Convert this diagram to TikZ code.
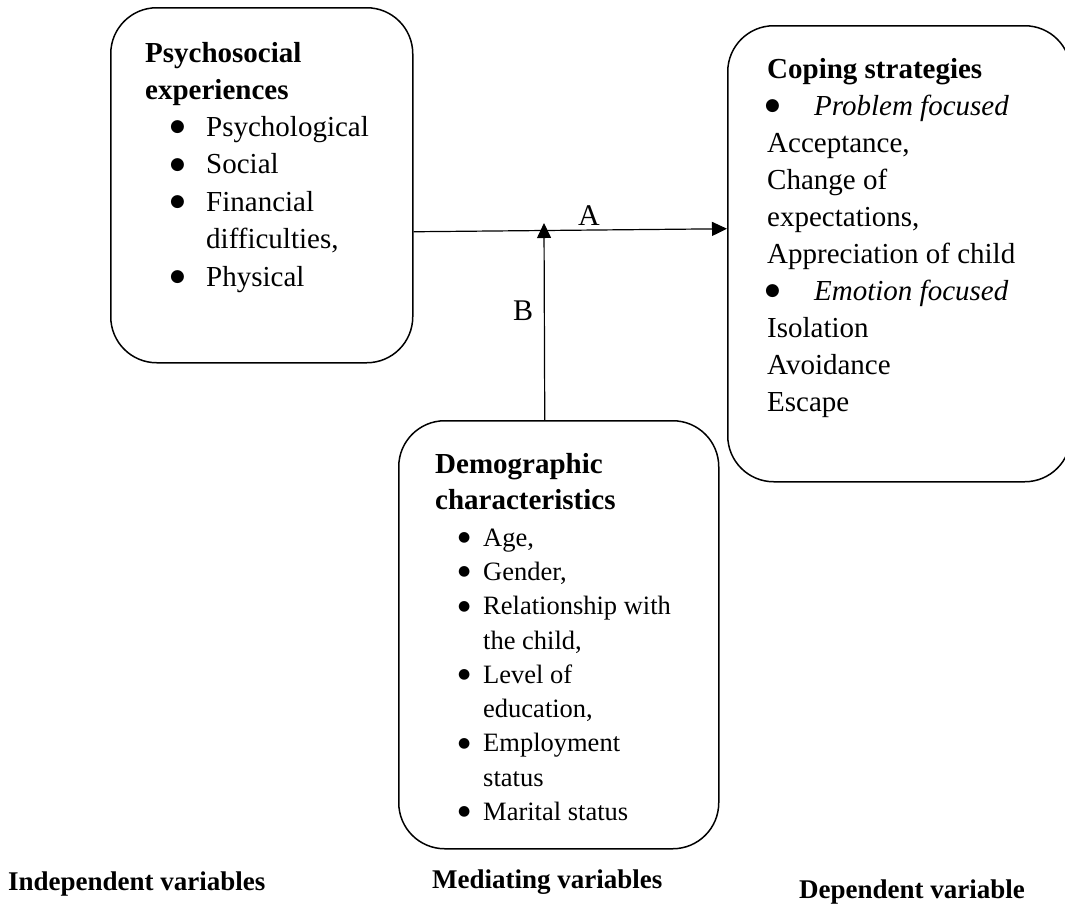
\documentclass[tikz,border=0pt]{standalone}
\usepackage{fontspec}
\setmainfont{Liberation Serif}
\newfontfamily\dvfont{DejaVu Sans}
\usetikzlibrary{arrows.meta}
\begin{document}
\begin{tikzpicture}[x=1pt,y=-1pt,
  box/.style={draw,line width=1.5pt,rounded corners=46pt,inner sep=0pt,anchor=north west},
  txt/.style={inner sep=0pt,anchor=base west,font=\fontsize{29}{35}\selectfont},
  hd/.style={inner sep=0pt,anchor=base west,font=\fontsize{29}{35}\selectfont\bfseries},
  it/.style={inner sep=0pt,anchor=base west,font=\fontsize{29}{35}\selectfont\itshape},
  sm/.style={inner sep=0pt,anchor=base west,font=\fontsize{26.5}{32}\selectfont},
  bul/.style={inner sep=0pt,anchor=base west,font=\dvfont\fontsize{17}{19}\selectfont,yshift=4.5pt},
  sbul/.style={inner sep=0pt,anchor=base west,font=\dvfont\fontsize{14}{16}\selectfont,yshift=4.5pt},
  lab/.style={inner sep=0pt,anchor=base west,font=\fontsize{27}{32}\selectfont\bfseries},
  ab/.style={inner sep=0pt,anchor=center,font=\fontsize{30}{35}\selectfont},
  arr/.style={line width=1.2pt,-{Triangle[length=15pt,width=14pt]}}]
\useasboundingbox (0,0) rectangle (1065,911);

% boxes
\node[box,minimum width=302pt,minimum height=355pt] (L) at (110,7) {};
\node[box,minimum width=343pt,minimum height=456pt] (R) at (727,25) {};
\node[box,minimum width=320pt,minimum height=428pt] (D) at (398,420) {};

% left box text
\node[hd] (l1) at (145,62) {Psychosocial};
\node[hd] (l2) at (145,99.5) {experiences};
\node[bul] (lb1) at (170,136) {●};
\node[txt] (li1) at (206,136) {Psychological};
\node[bul] (lb2) at (170,173.5) {●};
\node[txt] (li2) at (206,173.5) {Social};
\node[bul] (lb3) at (170,211) {●};
\node[txt] (li3) at (206,211) {Financial};
\node[txt] (li3b) at (206,248.5) {difficulties,};
\node[bul] (lb4) at (170,286) {●};
\node[txt] (li4) at (206,286) {Physical};

% right box text
\node[hd] (r0) at (767,78) {Coping strategies};
\node[bul] (rb1) at (765,115) {●};
\node[it] (r1) at (814,115) {Problem focused};
\node[txt] (r2) at (767,152) {Acceptance,};
\node[txt] (r3) at (767,189) {Change of};
\node[txt] (r4) at (767,226) {expectations,};
\node[txt] (r5) at (767,263) {Appreciation of child};
\node[bul] (rb2) at (765,300) {●};
\node[it] (r6) at (814,300) {Emotion focused};
\node[txt] (r7) at (767,337) {Isolation};
\node[txt] (r8) at (767,374) {Avoidance};
\node[txt] (r9) at (767,411) {Escape};

% bottom box text
\node[hd] (d1) at (435,473) {Demographic};
\node[hd] (d2) at (435,509) {characteristics};
\node[sbul] (db1) at (458,546) {●};
\node[sm] (di1) at (483,546) {Age,};
\node[sbul] (db2) at (458,580) {●};
\node[sm] (di2) at (483,580) {Gender,};
\node[sbul] (db3) at (458,614.5) {●};
\node[sm] (di3) at (483,614.5) {Relationship with};
\node[sm] (di3b) at (483,649) {the child,};
\node[sbul] (db4) at (458,683) {●};
\node[sm] (di4) at (483,683) {Level of};
\node[sm] (di4b) at (483,717) {education,};
\node[sbul] (db5) at (458,751.5) {●};
\node[sm] (di5) at (483,751.5) {Employment};
\node[sm] (di5b) at (483,786) {status};
\node[sbul] (db6) at (458,820) {●};
\node[sm] (di6) at (483,820) {Marital status};

% connectors
\coordinate (Btip) at (544,223);
\draw[arr] ([yshift=-46.5pt]L.east) -- ([yshift=25pt]R.west);
\draw[arr] ([xshift=-14pt]D.north) -- (Btip);
\node[ab] (la) at (589,216) {A};
\node[ab] (lbB) at (523,311) {B};

% bottom labels
\node[lab] (iv) at (8,890) {Independent variables};
\node[lab] (mv) at (432,888) {Mediating variables};
\node[lab] (dv) at (799,898) {Dependent variable};
\end{tikzpicture}
\end{document}
